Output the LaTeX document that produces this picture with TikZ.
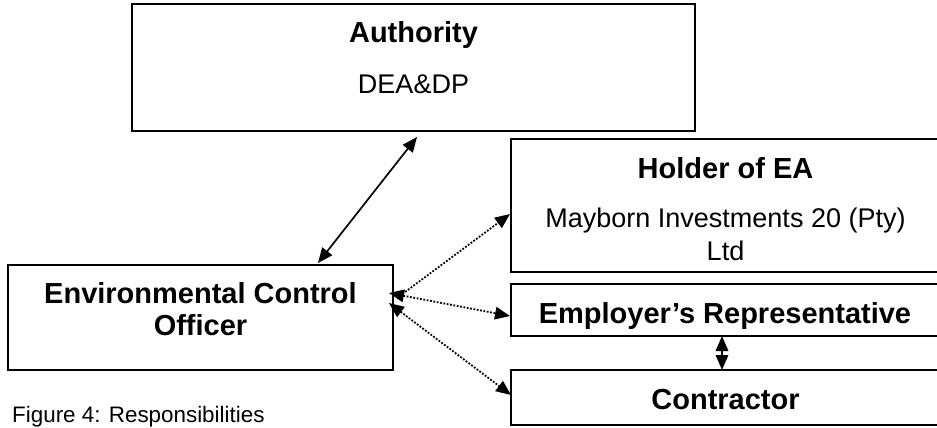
\documentclass[tikz,border=0pt]{standalone}
\usepackage{fontspec}
\setmainfont{Liberation Sans}
\usetikzlibrary{arrows.meta,calc}
\begin{document}
\begin{tikzpicture}[x=1pt,y=-1pt,
  box/.style={draw=black,line width=1.8pt,fill=white,inner sep=0pt,outer sep=0pt},
  boldtext/.style={inner sep=0pt,anchor=base,font=\fontsize{29}{32}\selectfont\bfseries},
  regtext/.style={inner sep=0pt,anchor=base,font=\fontsize{27}{30}\selectfont},
  captext/.style={inner sep=0pt,anchor=base west,font=\fontsize{22.4}{26}\selectfont},
  solidlink/.style={line width=1.7pt,{Triangle[length=15pt,width=12.5pt]}-{Triangle[length=15pt,width=12.5pt]}},
  dotlink/.style={line width=1.8pt,dash pattern=on 1.8pt off 1.6pt},
  bothtips/.style={{Triangle[length=15pt,width=12.5pt]}-{Triangle[length=15pt,width=12.5pt]}},
  endtip/.style={-{Triangle[length=15pt,width=12.5pt]}}
]
\clip (0,0) rectangle (937,428);
\fill[white] (0,0) rectangle (937,428);
% boxes
\node[box,minimum width=563pt,minimum height=127pt] (auth) at (413.5,67.5) {};
\node[box,minimum width=385pt,minimum height=105pt] (eco) at (200.5,317.5) {};
\node[box,minimum width=429pt,minimum height=133pt] (holder) at (725.5,205.5) {};
\node[box,minimum width=429pt,minimum height=52pt] (er) at (725.5,310) {};
\node[box,minimum width=429pt,minimum height=55pt] (con) at (725.5,397.5) {};
% texts
\node[boldtext] (authT) at (413.5,43) {Authority};
\node[regtext] (authS) at (413.5,93) {DEA\&DP};
\node[boldtext] (holderT) at (725.5,178) {Holder of EA};
\node[regtext] (holderS1) at (725.5,227) {Mayborn Investments 20 (Pty)};
\node[regtext] (holderS2) at (725.5,260) {Ltd};
\node[boldtext] (erT) at (725,323) {Employer’s Representative};
\node[boldtext] (ecoT1) at (200.5,303) {Environmental Control};
\node[boldtext] (ecoT2) at (200.5,335) {Officer};
\node[boldtext] (conT) at (725.5,409) {Contractor};
\node[captext] (caption) at (12,422.5) {Figure 4: Responsibilities};
% connectors
\draw[solidlink] ($(eco.north west)+(310,-2)$) -- ($(auth.south west)+(285,6)$);
\draw[dotlink,endtip] ($(eco.north east)+(4,33)$) -- ($(holder.north west)+(-1,75)$);
\draw[dotlink,bothtips] ($(eco.north east)+(-4,28)$) -- ($(er.north west)+(-1,32)$);
\draw[dotlink,bothtips] ($(eco.north east)+(-4,38)$) -- ($(con.north west)+(0,25)$);
\draw[solidlink] ($(er.south west)+(211,0)$) -- ($(con.north west)+(211,0)$);
\end{tikzpicture}
\end{document}
